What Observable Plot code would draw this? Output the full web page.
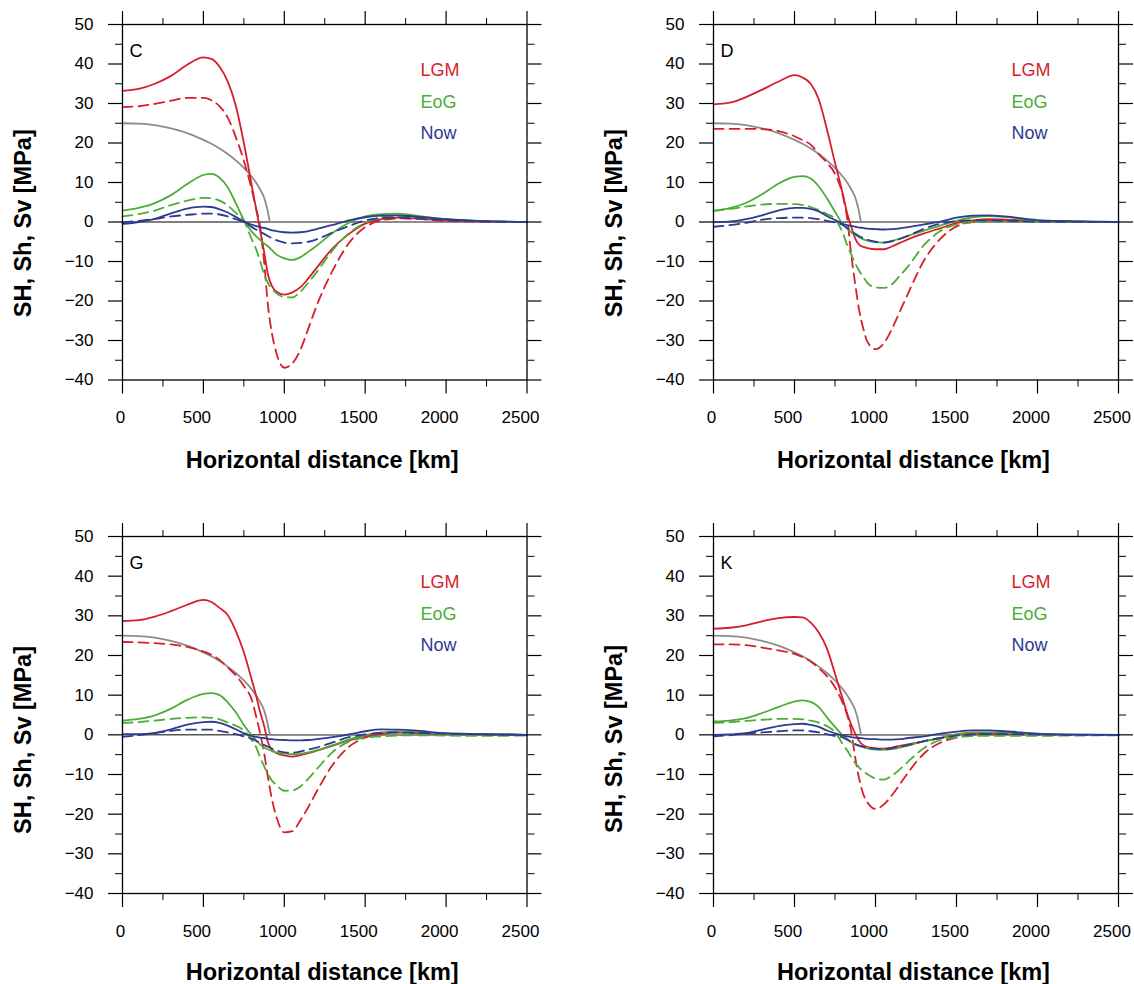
<!DOCTYPE html>
<html><head><meta charset="utf-8">
<script src="https://cdn.jsdelivr.net/npm/d3@7"></script>
<script src="https://cdn.jsdelivr.net/npm/@observablehq/plot@0.6"></script>
<style>
body{margin:0;background:#fff;}
#wrap{position:relative;width:1134px;height:984px;background:#fff;overflow:hidden;}
#wrap > div{position:absolute;}
</style></head><body><div id="wrap"></div>
<script>
// Horizontal distance grid [km]
const distance = [0,100,200,300,400,500,550,600,650,700,750,800,825,850,875,900,925,950,1000,1050,1100,1150,1200,1300,1400,1500,1600,1700,1800,2000,2200,2500];
// Gray load curve
const loadDist = [0,100,200,300,400,500,550,600,650,700,750,800,825,850,875,895,905,912,2500];
const loadStress = [25,24.9,24.5,23.7,22.5,20.8,19.8,18.6,17.2,15.6,13.7,11.4,10.0,8.3,6.2,3.2,1.2,0,0];

// Panel C
const cLgmSolid  = [33.2,33.7,35.0,37.0,39.8,41.7,41.3,39.3,35.6,29.5,20.0,9.0,3.5,-2.0,-7.5,-13.5,-16.3,-17.6,-18.4,-17.8,-16.5,-14.2,-11.6,-6.6,-3.0,-0.4,0.7,1.1,0.9,0.4,0.15,0];
const cLgmDashed = [29.1,29.3,29.9,30.7,31.4,31.4,30.8,29.3,26.5,21.5,15.5,8.0,3.5,-1.0,-10.0,-21.5,-28.5,-33.0,-36.9,-35.8,-32.3,-26.8,-21.2,-12.2,-5.3,-1.3,0.4,0.9,0.8,0.3,0.1,0];
const cEogSolid  = [2.9,3.6,4.8,6.8,9.6,11.9,12.2,11.2,8.8,4.8,0.5,-2.5,-3.6,-4.5,-5.4,-6.2,-7.2,-8.2,-9.2,-9.6,-8.9,-7.5,-6.0,-2.7,-0.2,1.4,2.0,2.1,1.7,0.7,0.3,0];
const cEogDashed = [1.4,2.0,2.9,4.3,5.4,6.1,6.0,5.4,4.2,2.3,0.3,-4.5,-6.8,-9.8,-13.2,-15.5,-17.0,-18.0,-19.0,-19.1,-17.6,-15.3,-12.7,-7.1,-2.8,-0.2,1.2,1.6,1.3,0.6,0.2,0];
const cNowSolid  = [-0.5,0,0.8,2.2,3.4,3.9,3.8,3.2,2.4,1.3,0.1,-0.7,-1.0,-1.3,-1.5,-1.8,-2.1,-2.3,-2.6,-2.7,-2.6,-2.3,-1.8,-0.7,0.4,1.2,1.6,1.7,1.4,0.7,0.3,0];
const cNowDashed = [-0.1,0.3,0.8,1.4,1.8,2.1,2.1,1.9,1.4,0.7,0.0,-1.3,-1.9,-2.5,-3.0,-3.6,-4.1,-4.6,-5.2,-5.4,-5.3,-5.0,-4.4,-2.6,-1.0,0.4,1.0,1.2,1.0,0.5,0.2,0];
// Panel D
const dLgmSolid  = [29.8,30.2,31.6,33.5,35.5,37.2,36.6,35.0,31.0,23.5,15.0,6.8,2.2,-1.2,-4.2,-5.8,-6.3,-6.6,-6.9,-6.9,-6.2,-5.3,-4.4,-2.9,-1.6,-0.3,0.4,0.7,0.6,0.25,0.1,0];
const dLgmDashed = [23.6,23.6,23.6,23.5,23.0,21.7,20.7,19.6,17.2,15.0,12.2,6.3,1.0,-8.2,-15.8,-22.5,-27.0,-30.3,-32.2,-30.8,-27.2,-22.7,-18.2,-9.7,-4.3,-1.1,0.0,0.3,0.4,0.2,0.1,0];
const dEogSolid  = [2.8,3.5,4.8,7.0,9.7,11.4,11.6,11.0,9.0,6.0,2.6,-0.6,-1.6,-2.6,-3.2,-3.9,-4.4,-4.7,-5.1,-5.2,-4.8,-4.2,-3.5,-2.2,-0.9,0.3,1.2,1.5,1.3,0.3,0.1,0];
const dEogDashed = [2.8,3.3,3.9,4.4,4.6,4.5,4.3,3.8,3.0,2.0,0.8,-3.0,-5.8,-8.2,-10.5,-12.4,-14.0,-15.4,-16.6,-16.7,-15.8,-13.6,-11.3,-5.8,-2.3,-0.6,0.0,0.1,0.1,0.05,0,0];
const dNowSolid  = [0,0.1,0.7,1.7,2.9,3.6,3.6,3.3,2.7,1.5,0.5,-0.5,-0.8,-1.0,-1.2,-1.4,-1.5,-1.7,-1.8,-1.9,-1.8,-1.6,-1.3,-0.6,0.1,1.1,1.6,1.7,1.4,0.5,0.2,0];
const dNowDashed = [-1.2,-0.8,-0.2,0.6,1.0,1.1,1.1,1.0,0.7,0.3,-0.1,-0.8,-1.5,-2.3,-3.0,-3.6,-4.1,-4.5,-5.0,-5.2,-4.9,-4.3,-3.5,-1.7,-0.4,0.2,0.4,0.4,0.3,0.1,0.05,0];
// Panel G
const gLgmSolid  = [28.7,28.9,29.8,31.2,32.8,34.0,33.5,32.0,30.2,26.2,20.8,13.7,10.0,5.8,2.3,-2.0,-3.8,-4.6,-5.2,-5.5,-5.1,-4.6,-4.0,-2.7,-1.4,-0.4,0.2,0.6,0.5,0.2,0.1,0];
const gLgmDashed = [23.4,23.3,23.1,22.8,22.2,21.0,20.2,18.9,17.0,15.0,12.3,8.7,4.8,0.5,-4.5,-11.0,-16.5,-20.5,-24.6,-24.3,-21.5,-18.1,-14.3,-7.5,-3.0,-0.7,0.3,0.6,0.5,0.2,0.1,0];
const gEogSolid  = [3.6,4.0,4.9,6.6,8.8,10.3,10.5,10.0,8.2,5.7,2.5,-0.2,-1.3,-2.4,-3.2,-3.7,-4.1,-4.4,-4.7,-4.9,-4.8,-4.4,-3.9,-2.6,-1.2,-0.1,0.6,0.8,0.8,0.2,0.1,0];
const gEogDashed = [3.0,3.2,3.6,4.0,4.3,4.4,4.3,3.9,3.1,2.3,1.1,-1.4,-3.0,-5.6,-7.9,-10.0,-11.6,-12.6,-14.1,-14.0,-13.0,-11.0,-8.7,-4.3,-1.7,-0.7,-0.4,-0.2,-0.1,-0.2,-0.25,-0.2];
const gNowSolid  = [0.2,0.2,0.5,1.4,2.6,3.2,3.3,3.0,2.3,1.4,0.4,-0.3,-0.5,-0.7,-0.8,-1.0,-1.1,-1.2,-1.3,-1.4,-1.4,-1.3,-1.1,-0.6,0.1,0.9,1.4,1.3,1.1,0.4,0.2,0];
const gNowDashed = [-0.5,-0.1,0.4,1.0,1.3,1.3,1.3,1.0,0.6,0.2,-0.4,-1.0,-1.5,-2.1,-2.6,-3.0,-3.5,-3.9,-4.4,-4.5,-4.2,-3.7,-3.2,-1.9,-0.6,0.1,0.5,0.6,0.5,0.3,0.1,0];
// Panel K
const kLgmSolid  = [26.8,27.0,27.6,28.6,29.4,29.7,29.6,28.3,25.8,21.8,15.4,8.7,5.4,2.6,0.3,-1.6,-2.6,-3.1,-3.4,-3.5,-3.2,-2.8,-2.4,-1.6,-0.8,0.1,0.4,0.3,0.2,0.05,0,0];
const kLgmDashed = [22.8,22.8,22.6,22.0,21.3,20.4,19.6,18.5,16.8,14.8,12.0,7.8,5.0,1.0,-5.8,-11.2,-15.0,-17.0,-18.7,-17.6,-15.3,-12.5,-9.6,-4.7,-2.0,-0.7,0.0,0.15,0.2,0.1,0,0];
const kEogSolid  = [3.4,3.6,4.2,5.5,7.0,8.4,8.7,8.3,7.0,4.4,2.0,-0.2,-1.1,-1.9,-2.5,-2.8,-3.1,-3.4,-3.7,-3.8,-3.6,-3.2,-2.7,-1.6,-0.8,0.1,0.6,0.6,0.5,0.05,0,0];
const kEogDashed = [3.0,3.2,3.5,3.8,4.0,4.0,3.9,3.6,3.1,2.2,0.7,-2.5,-3.9,-5.6,-7.1,-8.3,-9.2,-9.9,-11.0,-11.3,-10.3,-8.7,-6.8,-3.3,-1.3,-0.6,-0.3,-0.25,-0.25,-0.25,-0.2,-0.1];
const kNowSolid  = [0,0.1,0.4,1.3,2.2,2.7,2.8,2.5,2.0,1.1,0.4,-0.2,-0.4,-0.6,-0.7,-0.8,-0.9,-1.0,-1.1,-1.2,-1.2,-1.1,-0.8,-0.4,0.3,0.8,1.1,1.1,0.9,0.3,0.1,0];
const kNowDashed = [-0.4,-0.1,0.3,0.6,0.9,1.1,1.1,0.9,0.6,0.2,-0.3,-0.7,-1.2,-1.7,-2.3,-2.7,-3.0,-3.3,-3.5,-3.6,-3.4,-3.0,-2.6,-1.6,-0.8,-0.2,0.1,0.25,0.2,0.1,0,0];

// Ticks and labels
const xMajor = [0,500,1000,1500,2000,2500];
const xMinor = [250,750,1250,1750,2250];
const yMajor = [-40,-30,-20,-10,0,10,20,30,40,50];
const yMinor = [-35,-25,-15,-5,5,15,25,35,45];
const legendNames = ["LGM","EoG","Now"];
const xTitle = "Horizontal distance [km]";
const yTitle = "SH, Sh, Sv [MPa]";

const COLORS = {LGM:"#d61f2c", EoG:"#4cad35", Now:"#2e3b91", load:"#8c8c8c"};
const FONT = "'Liberation Sans', Arial, Helvetica, sans-serif";
const fmt = d => d < 0 ? "\u2212" + (-d) : String(d);

const panels = [
  {letter:"C", left:0,   top:0,   ml:122, mr:40.5, mt:24, mb:112.5, ydy:21, xdy:80.8,
   series:[[cLgmSolid,"LGM",false],[cLgmDashed,"LGM",true],[cEogSolid,"EoG",false],[cEogDashed,"EoG",true],[cNowSolid,"Now",false],[cNowDashed,"Now",true]]},
  {letter:"D", left:567, top:0,   ml:146, mr:16,   mt:24, mb:112.5, ydy:21, xdy:80.8,
   series:[[dLgmSolid,"LGM",false],[dLgmDashed,"LGM",true],[dEogSolid,"EoG",false],[dEogDashed,"EoG",true],[dNowSolid,"Now",false],[dNowDashed,"Now",true]]},
  {letter:"G", left:0,   top:492, ml:122, mr:40.5, mt:44, mb:91, ydy:25, xdy:79,
   series:[[gLgmSolid,"LGM",false],[gLgmDashed,"LGM",true],[gEogSolid,"EoG",false],[gEogDashed,"EoG",true],[gNowSolid,"Now",false],[gNowDashed,"Now",true]]},
  {letter:"K", left:567, top:492, ml:146, mr:16,   mt:44, mb:91, ydy:24, xdy:79,
   series:[[kLgmSolid,"LGM",false],[kLgmDashed,"LGM",true],[kEogSolid,"EoG",false],[kEogDashed,"EoG",true],[kNowSolid,"Now",false],[kNowDashed,"Now",true]]}
];

const rows = (xs, ys) => xs.map((x, i) => ({x, y: ys[i]}));
const wrap = document.getElementById("wrap");

for (const p of panels) {
  const marks = [
    Plot.ruleY([0], {stroke:"black", strokeWidth:1}),
    Plot.line(rows(loadDist, loadStress), {x:"x", y:"y", stroke:COLORS.load, strokeWidth:1.8, curve:"monotone-x"})
  ];
  for (const [vals, name, dashed] of p.series) {
    marks.push(Plot.line(rows(distance, vals), {
      x:"x", y:"y", stroke:COLORS[name], strokeWidth:1.8, curve:"monotone-x",
      strokeDasharray: dashed ? "10,6" : null
    }));
  }
  marks.push(
    Plot.frame({stroke:"black", strokeWidth:1.3}),
    Plot.axisX({anchor:"bottom", ticks:xMajor, tickSize:14, fill:"none", label:null, strokeWidth:1.2}),
    Plot.axisX({anchor:"bottom", ticks:xMajor.slice(0,1), tickSize:14, tickPadding:17, tickFormat:fmt, label:null, stroke:"none", dx:-2}),
    Plot.axisX({anchor:"bottom", ticks:xMajor.slice(1), tickSize:14, tickPadding:17, tickFormat:fmt, label:null, stroke:"none", dx:-6.5}),
    Plot.axisX({anchor:"top", ticks:xMajor, tickSize:14, fill:"none", label:null, strokeWidth:1.2}),
    Plot.axisX({anchor:"bottom", ticks:xMinor, tickSize:7, fill:"none", label:null}),
    Plot.axisX({anchor:"top", ticks:xMinor, tickSize:7, fill:"none", label:null}),
    Plot.axisY({anchor:"left", ticks:yMajor, tickSize:14, tickPadding:15, tickFormat:fmt, label:null, strokeWidth:1.2}),
    Plot.axisY({anchor:"right", ticks:yMajor, tickSize:14, fill:"none", label:null, strokeWidth:1.2}),
    Plot.axisY({anchor:"left", ticks:yMinor, tickSize:7, fill:"none", label:null}),
    Plot.axisY({anchor:"right", ticks:yMinor, tickSize:7, fill:"none", label:null}),
    Plot.text([p.letter], {text:d=>d, frameAnchor:"top-left", dx:7, dy:20, fontSize:18, textAnchor:"start", lineAnchor:"top", fill:"black"}),
    Plot.text([yTitle], {text:d=>d, frameAnchor:"left", rotate:-90, dx:-99, dy:p.ydy, fontSize:23.5, fontWeight:"bold", textAnchor:"middle", lineAnchor:"middle", fill:"black"}),
    Plot.text([xTitle], {text:d=>d, frameAnchor:"bottom", dx:-2.5, dy:p.xdy, fontSize:23.5, fontWeight:"bold", textAnchor:"middle", lineAnchor:"middle", fill:"black"})
  );
  legendNames.forEach((name, i) => {
    marks.push(Plot.text([name], {text:d=>d, frameAnchor:"top-left", dx:298, dy:[45.5,77.5,109][i], fontSize:18, textAnchor:"start", lineAnchor:"middle", fill:COLORS[name]}));
  });
  const chart = Plot.plot({
    width:567, height:492,
    marginLeft:p.ml, marginRight:p.mr, marginTop:p.mt, marginBottom:p.mb,
    x:{domain:[0,2500], axis:null},
    y:{domain:[-40,50], axis:null},
    style:{background:"white", color:"black", fontFamily:FONT, fontSize:"17px", overflow:"visible"},
    marks
  });
  const holder = document.createElement("div");
  holder.style.left = p.left + "px";
  holder.style.top = p.top + "px";
  holder.appendChild(chart);
  wrap.appendChild(holder);
}
</script>
</body></html>
